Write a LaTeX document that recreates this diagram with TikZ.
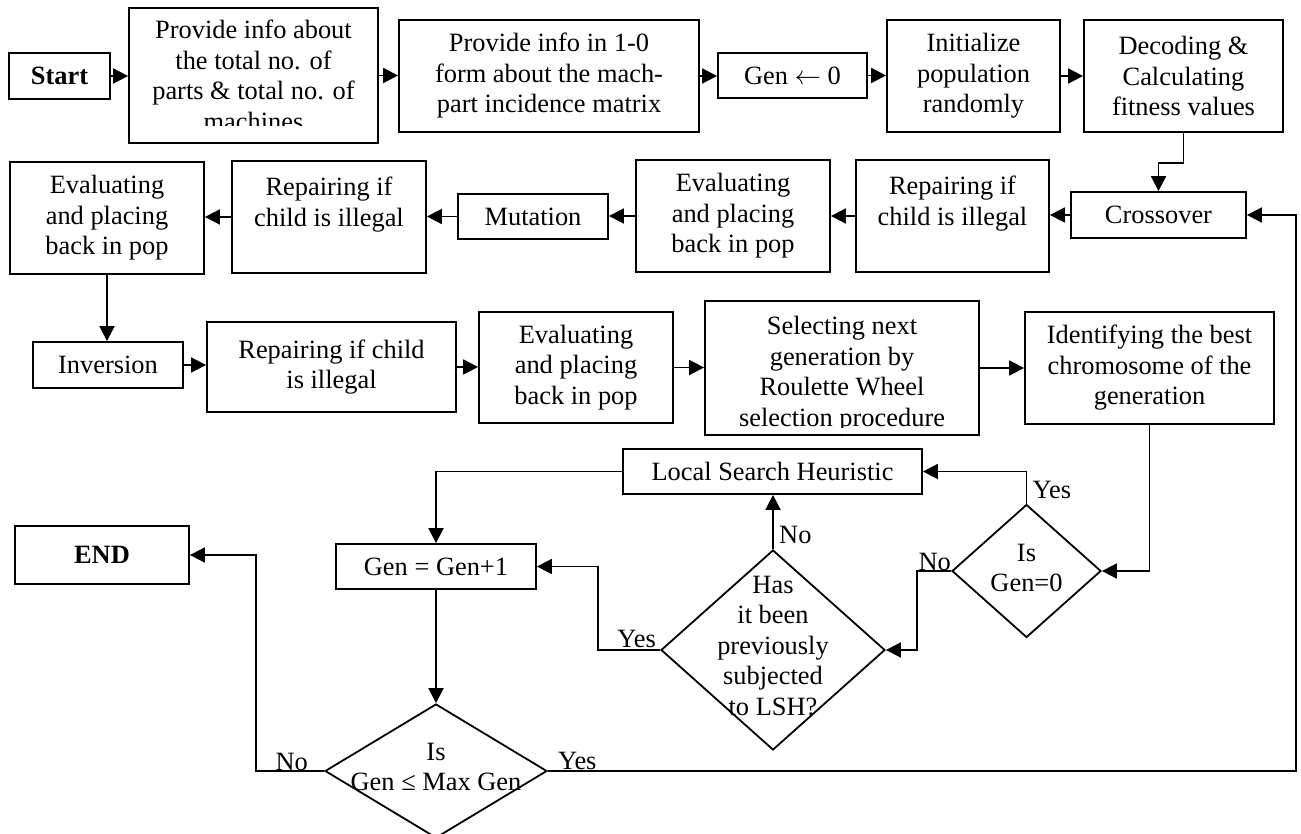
\RequirePackage{fix-cm}
\documentclass[tikz,border=0pt]{standalone}
\usepackage{fontspec}
\setmainfont{Liberation Serif}
\usetikzlibrary{arrows.meta,shapes.geometric,calc}
\newcommand\fcfont{\fontsize{26.4pt}{30.5pt}\selectfont}
\begin{document}
\begin{tikzpicture}[x=1pt,y=-1pt,
  every node/.style={font=\fcfont},
  box/.style={draw, line width=1.8pt, inner sep=0pt, align=center},
  dia/.style={draw, diamond, line width=1.8pt, inner sep=0pt},
  txt/.style={inner sep=0pt, align=center},
  lbl/.style={inner sep=0pt},
  arr/.style={line width=1.8pt, -{Triangle[length=15pt,width=15pt]}}]
\fill[white] (0,0) rectangle (1301,834);
\useasboundingbox (0,0) rectangle (1301,834);

% ---- first row ----
\node[box, minimum width=101pt, minimum height=46pt, font=\fcfont\bfseries] (start) at (59.5,76) {Start};
\node[box, minimum width=249pt, minimum height=135pt] (p1) at (253.5,75.5) {};
\begin{scope}
  \clip (131,10) rectangle (376,126);
  \node[txt] (p1txt) at (p1) {Provide info about\\the total no. of\\parts \& total no. of\\machines};
\end{scope}
\node[box, minimum width=300pt, minimum height=112pt] (p2) at (549,76) {Provide info in 1-0\\form about the mach-\\part incidence matrix};
\node[box, minimum width=149pt, minimum height=45pt] (gen0) at (792.5,75.5) {Gen $\leftarrow$ 0};
\node[box, minimum width=173pt, minimum height=112pt] (init) at (973.5,76) {Initialize\\population\\randomly};
\node[box, minimum width=199pt, minimum height=112pt] (dec) at (1183.5,76) {Decoding \&\\Calculating\\fitness values};

% ---- second row ----
\node[box, minimum width=175pt, minimum height=46pt] (cross) at (1158.5,215) {Crossover};
\node[box, minimum width=193pt, minimum height=112pt] (rep2) at (952.5,216) {Repairing if\\child is illegal\\\mbox{}};
\node[box, minimum width=194pt, minimum height=112pt] (eval2) at (733,216) {Evaluating\\and placing\\back in pop};
\node[box, minimum width=150pt, minimum height=45pt] (mut) at (533,216.5) {Mutation};
\node[box, minimum width=194pt, minimum height=112pt] (rep3) at (329,217) {Repairing if\\child is illegal\\\mbox{}};
\node[box, minimum width=194pt, minimum height=112pt] (eval3) at (107,218) {Evaluating\\and placing\\back in pop};

% ---- third row ----
\node[box, minimum width=150pt, minimum height=46pt] (inv) at (108,365) {Inversion};
\node[box, minimum width=249pt, minimum height=90pt] (rep4) at (331.5,367) {Repairing if child\\is illegal};
\node[box, minimum width=194pt, minimum height=111pt] (eval4) at (576,367.5) {Evaluating\\and placing\\back in pop};
\node[box, minimum width=274pt, minimum height=134pt] (sel) at (842,368) {};
\begin{scope}
  \clip (707,303) rectangle (977,427);
  \node[txt] (seltxt) at (842,374) {Selecting next\\generation by\\Roulette Wheel\\selection procedure};
\end{scope}
\node[box, minimum width=249pt, minimum height=112pt] (ident) at (1149.5,368) {Identifying the best\\chromosome of the\\generation};

% ---- decisions and loop ----
\node[box, minimum width=299pt, minimum height=45pt] (lsh) at (772.5,471.5) {Local Search Heuristic};
\node[dia, minimum width=149pt, minimum height=133pt] (gz) at (1026.5,571) {};
\node[txt] (gztxt) at (1026.5,568) {Is\\Gen=0};
\node[dia, minimum width=224pt, minimum height=200pt] (has) at (773,650) {};
\node[txt] (hastxt) at (773,646) {Has\\it been\\previously\\subjected\\to LSH?};
\node[box, minimum width=200pt, minimum height=45pt] (gp1) at (436,566.5) {Gen = Gen+1};
\node[box, minimum width=174pt, minimum height=58pt, font=\fcfont\bfseries] (endb) at (102,555) {END};
\node[dia, minimum width=222pt, minimum height=134pt] (gmax) at (436,771) {};
\node[txt] (gmaxtxt) at (436,767) {Is\\Gen ≤ Max Gen};

% ---- connectors ----
\draw[arr] (start.east) -- (start.east -| p1.west);
\draw[arr] (p1.east) -- (p1.east -| p2.west);
\draw[arr] (p2.east) -- (p2.east -| gen0.west);
\draw[arr] (gen0.east) -- (gen0.east -| init.west);
\draw[arr] (init.east) -- (init.east -| dec.west);
\draw[arr] (dec.south) -- ++(0,30) -| (cross.north);
\draw[arr] (cross.west) -- (cross.west -| rep2.east);
\draw[arr] (rep2.west) -- (rep2.west -| eval2.east);
\draw[arr] (eval2.west) -- (eval2.west -| mut.east);
\draw[arr] (mut.west) -- (mut.west -| rep3.east);
\draw[arr] (rep3.west) -- (rep3.west -| eval3.east);
\draw[arr] (eval3.south) -- (eval3.south |- inv.north);
\draw[arr] (inv.east) -- (inv.east -| rep4.west);
\draw[arr] (rep4.east) -- (rep4.east -| eval4.west);
\draw[arr] (eval4.east) -- (eval4.east -| sel.west);
\draw[arr] (sel.east) -- (sel.east -| ident.west);
\draw[arr] (ident.south) |- (gz.east);
\draw[arr] (gz.north) |- (lsh.east);
\draw[arr] (gz.west) -- ++(-34,0) |- (has.east);
\draw[arr] (has.north) -- (has.north |- lsh.south);
\draw[arr] (has.west) -- ++(-62,0) |- (gp1.east);
\draw[arr] (lsh.west) -| (gp1.north);
\draw[arr] (gp1.south) -- (gmax.north);
\draw[arr] (gmax.west) -- ++(-68,0) |- (endb.east);
\draw[arr] (gmax.east) -- ++(748,0) |- (cross.east);

% ---- branch labels ----
\node[lbl, anchor=base west] (yes1) at ($(gz.north)+(6,-5)$) {Yes};
\node[lbl, anchor=base east] (no1) at ($(gz.west)+(0,-1)$) {No};
\node[lbl, anchor=base west] (no2) at ($(has.north)+(6,-6)$) {No};
\node[lbl, anchor=base east] (yes2) at ($(has.west)+(-4,-3)$) {Yes};
\node[lbl, anchor=base east] (no3) at ($(gmax.west)+(-16,-1)$) {No};
\node[lbl, anchor=base west] (yes3) at ($(gmax.east)+(10,-2)$) {Yes};
\end{tikzpicture}
\end{document}
